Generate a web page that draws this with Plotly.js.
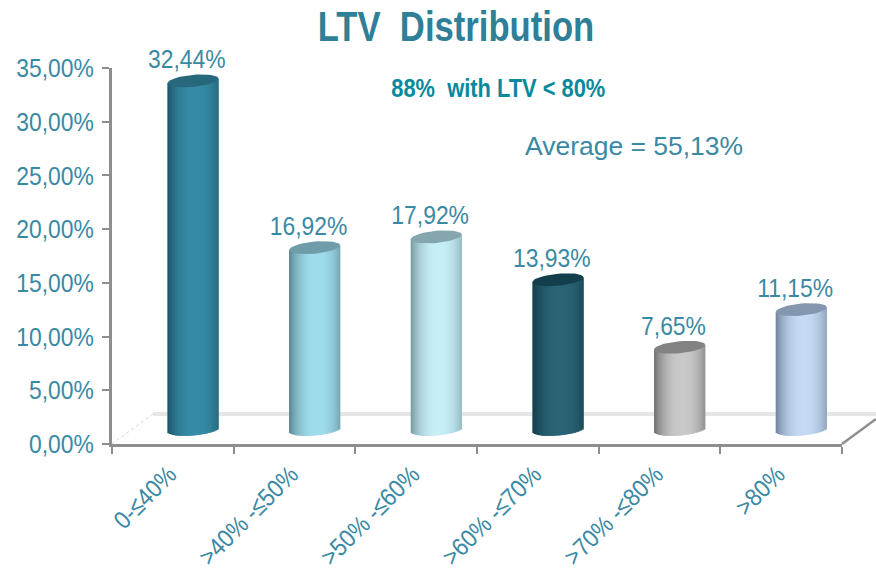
<!DOCTYPE html>
<html>
<head>
<meta charset="utf-8">
<script src="https://cdn.plot.ly/plotly-3.0.1.min.js"></script>
<style>html,body{margin:0;padding:0;background:#fff;}</style>
</head>
<body>
<div id="chart" style="width:876px;height:570px;"></div>
<script>
const categories = ["0-≤40%", ">40% -≤50%", ">50% -≤60%", ">60% -≤70%", ">70% -≤80%", ">80%"];
const values = [32.44, 16.92, 17.92, 13.93, 7.65, 11.15];
const centreColors = ["#368ba6", "#9fdcec", "#c6eff8", "#2a6475", "#c9c9c9", "#c4d9f3"];
const edgeColors = ["#1d5667", "#5b8593", "#78989f", "#123c48", "#6e6e6e", "#71839b"];
const topColors = ["#27687c", "#6f9ca8", "#86a6ae", "#133f4c", "#828282", "#8597ae"];
const yTicks = [0, 5, 10, 15, 20, 25, 30, 35];
const yTickLabels = ["0,00%", "5,00%", "10,00%", "15,00%", "20,00%", "25,00%", "30,00%", "35,00%"];
const xBoundaries = [-0.5, 0.5, 1.5, 2.5, 3.5, 4.5, 5.5];

const textColor = "#3a89a4";
const axisColor = "#8e8e8e";
const FONT = "'Liberation Sans', Arial, sans-serif";

// cylinder geometry, in axis units
const shift = 0.165, halfW = 0.21, lift = 1.36, tilt = 0.22, minor = 0.56, strips = 34;

function hex(c){return [1,3,5].map(i=>parseInt(c.substr(i,2),16));}
function mix(a,b,f){const A=hex(a),B=hex(b);return "rgb("+A.map((v,i)=>Math.round(v+(B[i]-v)*f)).join(",")+")";}

const traces = [];
for (let s = 0; s < strips; s++) {
  const d0 = -1 + 2*s/strips, d1 = -1 + 2*(s+1)/strips, d = (d0+d1)/2;
  const u = Math.min(1, Math.abs((d-0.1)/1.1));
  const f = 1 - Math.pow(u, 2.4);
  const bases = values.map(()=> lift + tilt*d - minor*Math.sqrt(Math.max(0,1-d*d)));
  traces.push({
    type:"bar",
    x: categories.map((_,i)=>i),
    y: values.map((v,i)=> lift + v + tilt*d - bases[i]),
    base: bases,
    width: (d1-d0)*halfW + (s < strips-1 ? 0.014 : 0),
    offset: shift + d0*halfW,
    marker:{color: categories.map((_,i)=>mix(edgeColors[i],centreColors[i],f)), line:{width:0}},
    hoverinfo:"skip", showlegend:false
  });
}
values.forEach((v,i)=>{
  const xs=[], ys=[];
  for(let k=0;k<=48;k++){
    const a=k/48*2*Math.PI, c=Math.cos(a);
    xs.push(i+shift+halfW*c);
    ys.push(lift+v+tilt*c+minor*Math.sin(a));
  }
  traces.push({type:"scatter",mode:"lines",x:xs,y:ys,fill:"toself",fillcolor:topColors[i],
    line:{width:0,color:topColors[i]},hoverinfo:"skip",showlegend:false});
});
traces.push({
  type:"scatter", mode:"text",
  x: categories.map((_,i)=>i+shift-0.05),
  y: values.map(v=>v+lift+0.55),
  text: values.map(v=>v.toFixed(2).replace(".",",")+"%"),
  textposition:"top center",
  textfont:{family:FONT,size:26,color:textColor},
  hoverinfo:"skip", showlegend:false, cliponaxis:false
});

const W = 876, H = 570, L = 111.5, R = 842, T = 68, B = 444.5;
const pw = R-L, ph = B-T;
const layout = {
  width:W, height:H,
  margin:{l:L, r:W-R, t:T, b:H-B, pad:0},
  paper_bgcolor:"#fff", plot_bgcolor:"rgba(0,0,0,0)",
  separators:", ",
  barmode:"overlay", showlegend:false,
  title:{text:"LTV  Distribution", x:456/W, xref:"container", xanchor:"center",
         y:1-26/H, yref:"container", yanchor:"middle",
         font:{family:FONT,size:42,weight:700,color:"#2f7f98"}},
  xaxis:{
    type:"linear", range:[-0.5,5.5], fixedrange:true,
    tickmode:"array", tickvals:categories.map((_,i)=>i-0.03), ticktext:categories,
    tickangle:-45, ticks:"", showgrid:false, zeroline:false,
    showline:true, linecolor:axisColor, linewidth:3,
    tickfont:{family:FONT,size:25,color:textColor},
    ticklabelstandoff:3,
    minor:{tickmode:"array", tickvals:xBoundaries, ticks:"outside", ticklen:7, tickwidth:2, tickcolor:axisColor, showgrid:false}
  },
  yaxis:{
    range:[0,35], fixedrange:true,
    tickmode:"array", tickvals:yTicks, ticktext:yTickLabels,
    ticks:"outside", ticklen:7, tickwidth:2, tickcolor:axisColor,
    showgrid:false, zeroline:false,
    showline:true, linecolor:axisColor, linewidth:3,
    tickfont:{family:FONT,size:26,color:textColor},
    ticklabelstandoff:3
  },
  shapes:[
    {type:"line",xref:"paper",yref:"paper",layer:"below",x0:41/pw,x1:(W-L)/pw,y0:30/ph,y1:30/ph,line:{color:"#e6e6e6",width:4}},
    {type:"line",xref:"paper",yref:"paper",layer:"below",x0:0,x1:41/pw,y0:0,y1:30/ph,line:{color:"#d6d6d6",width:1,dash:"dot"}},
    {type:"line",xref:"paper",yref:"paper",layer:"below",x0:1,x1:(W-L)/pw,y0:0,y1:25/ph,line:{color:axisColor,width:2.5}}
  ],
  annotations:[
    {text:"88%  with LTV &lt; 80%",xref:"paper",yref:"paper",x:(498-L)/pw,y:(B-88)/ph,xanchor:"center",yanchor:"middle",showarrow:false,
     font:{family:FONT,size:26,weight:700,color:"#078a9c"}},
    {text:"Average = 55,13%",xref:"paper",yref:"paper",x:(634-L)/pw,y:(B-146)/ph,xanchor:"center",yanchor:"middle",showarrow:false,
     font:{family:FONT,size:26,color:textColor}}
  ]
};
function squeeze(sel, k){
  document.querySelectorAll(sel).forEach(t=>{
    const n=t.getComputedTextLength();
    if(n>0){t.setAttribute("textLength",n*k);t.setAttribute("lengthAdjust","spacingAndGlyphs");}
  });
}
Plotly.newPlot("chart",traces,layout,{staticPlot:true,displayModeBar:false}).then(()=>{
  squeeze(".xtick text", 0.89);
  squeeze(".ytick text, .textpoint text", 0.88);
  squeeze(".gtitle", 0.825);
  const notes=document.querySelectorAll(".annotation-text");
  notes[0].setAttribute("textLength",214);notes[0].setAttribute("lengthAdjust","spacingAndGlyphs");
  notes[1].setAttribute("textLength",218);notes[1].setAttribute("lengthAdjust","spacingAndGlyphs");
});
</script>
</body>
</html>
